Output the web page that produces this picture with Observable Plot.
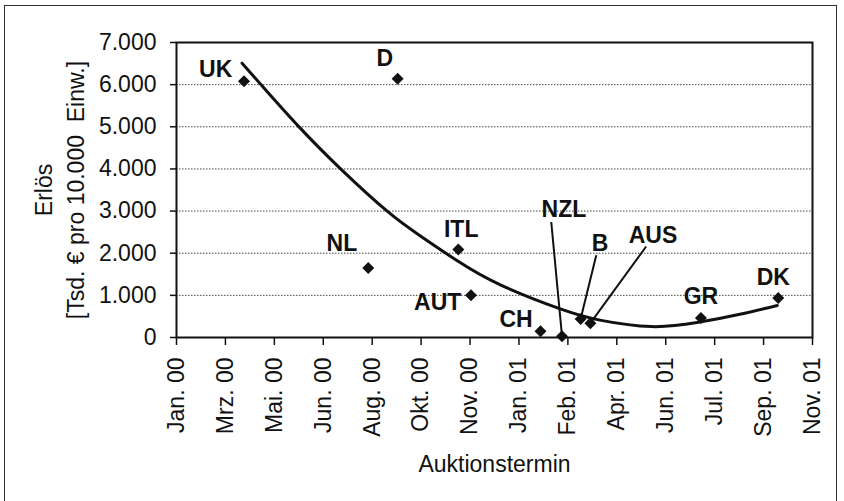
<!DOCTYPE html>
<html>
<head>
<meta charset="utf-8">
<script src="https://cdn.jsdelivr.net/npm/d3@7"></script>
<script src="https://cdn.jsdelivr.net/npm/@observablehq/plot@0.6"></script>
<style>
  html, body { margin: 0; padding: 0; background: #fff; }
  #wrap { position: relative; width: 844px; height: 501px; overflow: hidden; }
  #border { position: absolute; left: 4px; top: 5px; width: 831px; height: 500px;
            border-left: 1.5px solid #333; border-top: 1.5px solid #333; border-right: 1.5px solid #333; }
  #chart { position: absolute; left: 0; top: 0; }
</style>
</head>
<body>
<div id="wrap"><div id="border"></div><div id="chart"></div></div>
<script>
// Auction results (Erlös, Tsd. € pro 10.000 Einw.)
const countries = ["UK", "D", "NL", "ITL", "AUT", "CH", "NZL", "B", "AUS", "GR", "DK"];
const auctionDates = ["2000-04-03", "2000-09-07", "2000-08-08", "2000-11-08", "2000-11-21", "2001-01-31", "2001-02-22", "2001-03-13", "2001-03-23", "2001-07-14", "2001-10-01"];
const revenues = [6080, 6140, 1650, 2090, 1000, 150, 30, 440, 340, 460, 940];

// Label anchor positions (data units)
const labelDates = ["2000-03-05", "2000-08-25", "2000-07-12", "2000-11-11", "2000-10-18", "2001-01-06", "2001-02-24", "2001-04-02", "2001-05-26", "2001-07-14", "2001-09-26"];
const labelValues = [6360, 6620, 2230, 2570, 830, 420, 3030, 2220, 2420, 960, 1430];

// Leader lines (from under the label to the point)
const leaderCountries = ["NZL", "B", "AUS"];
const leaderStartDates = ["2001-02-11", "2001-03-29", "2001-05-19"];
const leaderStartValues = [2740, 1950, 2160];

// Trend curve
const trendDates = ["2000-04-01", "2000-04-20", "2000-05-29", "2000-07-11", "2000-08-27", "2000-10-01", "2000-11-07", "2000-12-21", "2001-02-21", "2001-04-03", "2001-05-24", "2001-07-10", "2001-08-24", "2001-09-30"];
const trendValues = [6510, 6010, 5004, 3996, 3004, 2397, 1820, 1249, 673, 407, 259, 354, 558, 760];

// X axis ticks
const tickDates = ["2000-01-25", "2000-03-15", "2000-05-04", "2000-06-23", "2000-08-12", "2000-10-01", "2000-11-20", "2001-01-09", "2001-02-28", "2001-04-19", "2001-06-08", "2001-07-28", "2001-09-16", "2001-11-05"];
const tickLabels = ["Jan. 00", "Mrz. 00", "Mai. 00", "Jun. 00", "Aug. 00", "Okt. 00", "Nov. 00", "Jan. 01", "Feb. 01", "Apr. 01", "Jun. 01", "Jul. 01", "Sep. 01", "Nov. 01"];
const yTicks = [0, 1000, 2000, 3000, 4000, 5000, 6000, 7000];
const gridValues = [1000, 2000, 3000, 4000, 5000, 6000];

const parse = s => new Date(s + "T00:00:00Z");
const points = countries.map((c, i) => ({c, date: parse(auctionDates[i]), v: revenues[i]}));
const labels = countries.map((c, i) => ({c, date: parse(labelDates[i]), v: labelValues[i]}));
const leaders = leaderCountries.map((c, i) => {
  const p = points.find(d => d.c === c);
  return {x1: parse(leaderStartDates[i]), y1: leaderStartValues[i], x2: p.date, y2: p.v};
});
const trend = trendDates.map((d, i) => ({date: parse(d), v: trendValues[i]}));
const ticks = tickDates.map(parse);
const tickMap = new Map(ticks.map((t, i) => [t.getTime(), tickLabels[i]]));
const deFmt = d3.formatLocale({decimal: ",", thousands: ".", grouping: [3], currency: ["", " €"]}).format(",");

const font = "'Liberation Sans', Arial, Helvetica, sans-serif";

const chart = Plot.plot({
  width: 844,
  height: 501,
  marginLeft: 176,
  marginRight: 32,
  marginTop: 42,
  marginBottom: 164,
  style: {fontFamily: font, fontSize: "23px", color: "#111", background: "transparent"},
  x: {type: "utc", domain: [ticks[0], ticks[ticks.length - 1]]},
  y: {domain: [0, 7000]},
  marks: [
    Plot.ruleY(gridValues, {stroke: "#444", strokeWidth: 1, strokeDasharray: "1.5,1.5"}),
    Plot.frame({stroke: "#111", strokeWidth: 2}),
    Plot.axisY({ticks: yTicks, tickFormat: deFmt, tickSize: 6, tickPadding: 14, fontSize: 23, label: null, stroke: "#111", strokeWidth: 1.5}),
    Plot.axisX({ticks: ticks, tickFormat: d => tickMap.get(d.getTime()), tickRotate: -90, tickSize: 8, tickPadding: 12, fontSize: 23, label: null, stroke: "#111", strokeWidth: 1.5}),
    Plot.line(trend, {x: "date", y: "v", curve: "natural", stroke: "#111", strokeWidth: 3}),
    Plot.link(leaders, {x1: "x1", y1: "y1", x2: "x2", y2: "y2", stroke: "#111", strokeWidth: 2}),
    Plot.dot(points, {x: "date", y: "v", symbol: "diamond2", r: 5.4, fill: "#111", stroke: "none"}),
    Plot.text(labels, {x: "date", y: "v", text: "c", fontWeight: "bold", fontSize: 23, fill: "#111", textAnchor: "middle", lineAnchor: "middle"}),
    Plot.text(["Auktionstermin"], {frameAnchor: "bottom", dy: 127.5, lineAnchor: "middle", textAnchor: "middle", fontSize: 23, fill: "#111"}),
    Plot.text(["Erlös\n[Tsd. € pro 10.000  Einw.]"], {frameAnchor: "left", dx: -118.5, rotate: -90, lineAnchor: "middle", textAnchor: "middle", lineHeight: 1.37, fontSize: 23, fill: "#111"})
  ]
});
document.getElementById("chart").appendChild(chart);
</script>
</body>
</html>
